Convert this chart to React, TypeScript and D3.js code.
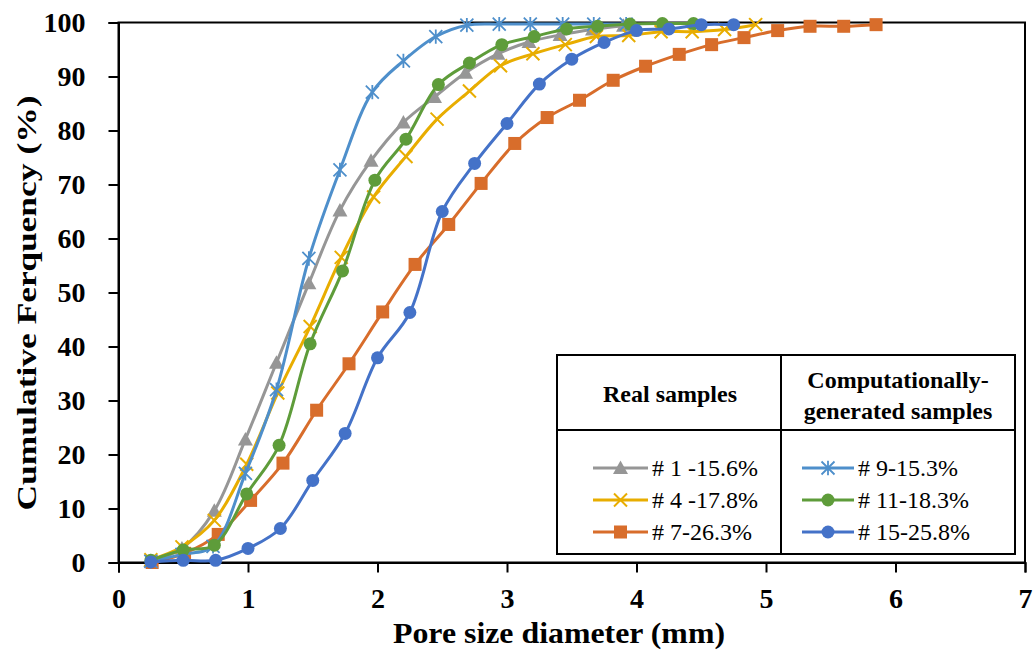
import React, { useEffect, useRef } from "react";
import * as d3 from "d3";

// ---- Data ----
const xTicks = [0, 1, 2, 3, 4, 5, 6, 7];
const yTicks = [0, 10, 20, 30, 40, 50, 60, 70, 80, 90, 100];

const s1Name = "# 1 -15.6%";
const s1X = [0.25, 0.49, 0.74, 0.98, 1.22, 1.47, 1.71, 1.95, 2.2, 2.44, 2.68, 2.93, 3.17, 3.41, 3.66, 3.9];
const s1Y = [0.3, 2.6, 9.6, 22.8, 37.0, 51.7, 65.2, 74.4, 81.5, 86.2, 90.7, 94.2, 96.4, 97.7, 98.7, 99.4];

const s4Name = "# 4 -17.8%";
const s4X = [0.25, 0.49, 0.74, 0.99, 1.23, 1.48, 1.72, 1.97, 2.22, 2.46, 2.71, 2.95, 3.2, 3.45, 3.69, 3.94, 4.19, 4.43, 4.68, 4.92];
const s4Y = [0.5, 2.9, 7.8, 18.2, 31.4, 43.7, 56.5, 67.7, 75.2, 82.1, 87.3, 92.0, 94.2, 95.9, 97.4, 97.6, 98.3, 98.3, 98.7, 99.6];

const s7Name = "# 7-26.3%";
const s7X = [0.26, 0.51, 0.77, 1.02, 1.27, 1.53, 1.78, 2.04, 2.29, 2.55, 2.8, 3.06, 3.31, 3.56, 3.82, 4.07, 4.33, 4.58, 4.83, 5.09, 5.34, 5.6, 5.85];
const s7Y = [0, 1.7, 5.2, 11.5, 18.4, 28.2, 36.8, 46.4, 55.2, 62.6, 70.2, 77.6, 82.4, 85.6, 89.3, 91.9, 94.1, 95.9, 97.2, 98.5, 99.3, 99.3, 99.6];

const s9Name = "# 9-15.3%";
const s9X = [0.25, 0.49, 0.73, 0.98, 1.22, 1.47, 1.71, 1.96, 2.2, 2.45, 2.69, 2.94, 3.18, 3.43, 3.67, 3.92];
const s9Y = [0.2, 1.5, 3.0, 16.5, 32.0, 56.3, 72.7, 87.1, 92.9, 97.4, 99.5, 99.7, 99.7, 99.7, 99.7, 99.7];

const s11Name = "# 11-18.3%";
const s11X = [0.25, 0.5, 0.74, 0.99, 1.24, 1.48, 1.73, 1.98, 2.22, 2.47, 2.71, 2.96, 3.21, 3.46, 3.7, 3.95, 4.2, 4.44];
const s11Y = [0.4, 2.3, 3.2, 12.7, 21.7, 40.5, 54.0, 70.8, 78.4, 88.5, 92.5, 95.9, 97.4, 98.8, 99.3, 99.7, 99.8, 99.8];

const s15Name = "# 15-25.8%";
const s15X = [0.25, 0.5, 0.75, 1.0, 1.25, 1.5, 1.75, 2.0, 2.25, 2.5, 2.75, 3.0, 3.25, 3.5, 3.75, 4.0, 4.25, 4.5, 4.75];
const s15Y = [0.1, 0.4, 0.4, 2.6, 6.3, 15.2, 23.9, 37.9, 46.3, 65.0, 73.9, 81.3, 88.6, 93.2, 96.3, 98.5, 98.8, 99.6, 99.6];

const xTitle = "Pore size diameter (mm)";
const yTitle = "Cumulative  Ferquency  (%)";
const legendHeadLeft = "Real samples";
const legendHeadRight1 = "Computationally-";
const legendHeadRight2 = "generated samples";

type Series = { name: string; xs: number[]; ys: number[]; color: string; marker: string };

const series: Series[] = [
  { name: s1Name, xs: s1X, ys: s1Y, color: "#969696", marker: "triangle" },
  { name: s4Name, xs: s4X, ys: s4Y, color: "#E8AD00", marker: "x" },
  { name: s7Name, xs: s7X, ys: s7Y, color: "#D86D2B", marker: "square" },
  { name: s9Name, xs: s9X, ys: s9Y, color: "#4E8FCB", marker: "star" },
  { name: s11Name, xs: s11X, ys: s11Y, color: "#5E9C3A", marker: "circle" },
  { name: s15Name, xs: s15X, ys: s15Y, color: "#4472C8", marker: "circle" },
];

const W = 1034;
const H = 651;
const M = { left: 118.5, right: 1025, top: 22.5, bottom: 562.5 };
const FONT = "'Liberation Serif', 'Times New Roman', serif";

function drawMarker(g: any, kind: string, cx: number, cy: number, color: string) {
  if (kind === "circle") {
    g.append("circle").attr("cx", cx).attr("cy", cy).attr("r", 6.5).attr("fill", color);
  } else if (kind === "square") {
    g.append("rect").attr("x", cx - 6.5).attr("y", cy - 6.5).attr("width", 13).attr("height", 13).attr("fill", color);
  } else if (kind === "triangle") {
    const s = 7.5;
    g.append("path")
      .attr("d", `M${cx},${cy - s}L${cx + s},${cy + s * 0.8}L${cx - s},${cy + s * 0.8}Z`)
      .attr("fill", color);
  } else if (kind === "x") {
    const s = 6.5;
    g.append("path")
      .attr("d", `M${cx - s},${cy - s}L${cx + s},${cy + s}M${cx - s},${cy + s}L${cx + s},${cy - s}`)
      .attr("stroke", color).attr("stroke-width", 2).attr("fill", "none");
  } else if (kind === "star") {
    const s = 6.5;
    g.append("path")
      .attr("d", `M${cx - s},${cy - s}L${cx + s},${cy + s}M${cx - s},${cy + s}L${cx + s},${cy - s}M${cx},${cy - s * 1.1}L${cx},${cy + s * 1.1}`)
      .attr("stroke", color).attr("stroke-width", 1.8).attr("fill", "none");
  }
}

export default function App() {
  const ref = useRef<SVGSVGElement | null>(null);

  useEffect(() => {
    const svg = d3.select(ref.current);
    svg.selectAll("*").remove();

    const x = d3.scaleLinear().domain([0, 7]).range([M.left, M.right]);
    const y = d3.scaleLinear().domain([0, 100]).range([M.bottom, M.top]);

    // plot border
    svg.append("rect")
      .attr("x", M.left).attr("y", M.top)
      .attr("width", M.right - M.left).attr("height", M.bottom - M.top)
      .attr("fill", "none").attr("stroke", "#000").attr("stroke-width", 2);

    // axes
    const xAxis = svg.append("g").attr("transform", `translate(0,${M.bottom})`)
      .call(d3.axisBottom(x).tickValues(xTicks).tickFormat(d3.format("d")).tickSize(10).tickPadding(16));
    const yAxis = svg.append("g").attr("transform", `translate(${M.left},0)`)
      .call(d3.axisLeft(y).tickValues(yTicks).tickFormat(d3.format("d")).tickSize(10).tickPadding(23));
    [xAxis, yAxis].forEach((a) => {
      a.select(".domain").attr("stroke", "#000").attr("stroke-width", 2);
      a.selectAll(".tick line").attr("stroke", "#000").attr("stroke-width", 2);
      a.selectAll(".tick text")
        .attr("fill", "#000")
        .style("font-family", FONT)
        .style("font-weight", "bold")
        .style("font-size", "28px");
    });

    // series
    const line = d3.line<[number, number]>()
      .x((d) => x(d[0]))
      .y((d) => y(d[1]))
      .curve(d3.curveCatmullRom.alpha(0.5));

    const plot = svg.append("g");
    series.forEach((s) => {
      const pts: [number, number][] = s.xs.map((v, i) => [v, s.ys[i]]);
      const g = plot.append("g");
      g.append("path").attr("d", line(pts) as string)
        .attr("fill", "none").attr("stroke", s.color).attr("stroke-width", 3)
        .attr("stroke-linejoin", "round");
      pts.forEach((p) => drawMarker(g, s.marker, x(p[0]), y(p[1]), s.color));
    });

    // axis titles
    svg.append("text")
      .attr("x", 559).attr("y", 643)
      .attr("text-anchor", "middle")
      .attr("textLength", 332).attr("lengthAdjust", "spacingAndGlyphs")
      .style("font-family", FONT).style("font-weight", "bold").style("font-size", "30px")
      .text(xTitle);
    svg.append("text")
      .attr("transform", `translate(36,303) rotate(-90)`)
      .attr("text-anchor", "middle")
      .attr("textLength", 415).attr("lengthAdjust", "spacingAndGlyphs")
      .style("font-family", FONT).style("font-weight", "bold").style("font-size", "28px")
      .text(yTitle);

    // legend table
    const L = { x0: 557, x1: 1015, y0: 355, y1: 554, xm: 781, ym: 430 };
    const lg = svg.append("g");
    lg.append("rect").attr("x", L.x0).attr("y", L.y0).attr("width", L.x1 - L.x0).attr("height", L.y1 - L.y0)
      .attr("fill", "#fff").attr("stroke", "#000").attr("stroke-width", 2);
    lg.append("line").attr("x1", L.xm).attr("x2", L.xm).attr("y1", L.y0).attr("y2", L.y1)
      .attr("stroke", "#000").attr("stroke-width", 2);
    lg.append("line").attr("x1", L.x0).attr("x2", L.x1).attr("y1", L.ym).attr("y2", L.ym)
      .attr("stroke", "#000").attr("stroke-width", 2);

    const head = (tx: number, ty: number, t: string) =>
      lg.append("text").attr("x", tx).attr("y", ty).attr("text-anchor", "middle")
        .style("font-family", FONT).style("font-weight", "bold").style("font-size", "24px").text(t);
    head(670, 402, legendHeadLeft);
    head(898, 388, legendHeadRight1);
    head(898, 419, legendHeadRight2);

    const rowsY = [468, 500, 532];
    series.forEach((s, i) => {
      const col = i < 3 ? 0 : 1;
      const ry = rowsY[i % 3];
      const lx0 = col === 0 ? 593 : 802;
      const lx1 = col === 0 ? 648 : 854;
      const g = lg.append("g");
      g.append("line").attr("x1", lx0).attr("x2", lx1).attr("y1", ry).attr("y2", ry)
        .attr("stroke", s.color).attr("stroke-width", 3);
      drawMarker(g, s.marker, (lx0 + lx1) / 2, ry, s.color);
      g.append("text").attr("x", lx1 + 4).attr("y", ry).attr("dy", "0.35em")
        .style("font-family", FONT).style("font-size", "24px").attr("fill", "#000").text(s.name);
    });
  }, []);

  return (
    <svg
      ref={ref}
      width={W}
      height={H}
      style={{ position: "absolute", left: 0, top: 0, background: "#fff" }}
    />
  );
}
